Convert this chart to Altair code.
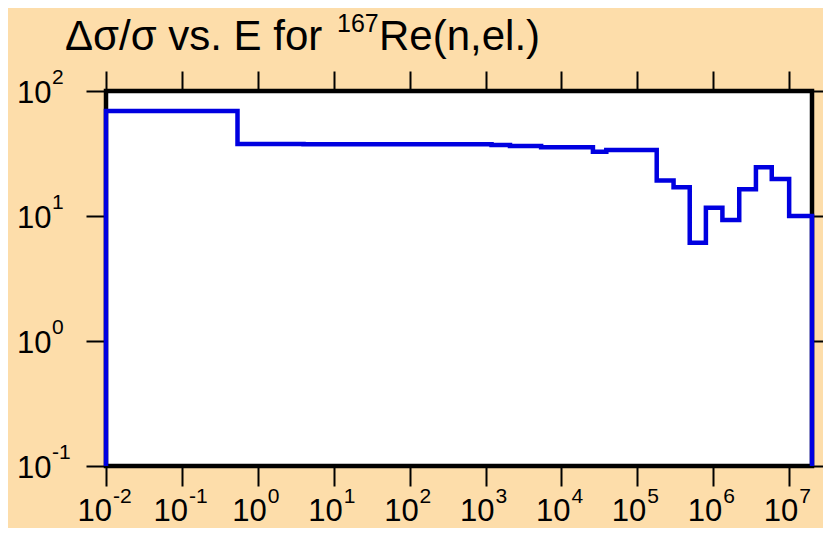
import altair as alt
import pandas as pd

# ---- data ----
# bin edges (eV) of the step curve and the relative uncertainty (%) in each bin
edges = [1e-2, 1e-1, 0.54, 4.0, 1.2e3, 2.1e3, 5.4e3, 2.6e4, 3.9e4, 1.8e5,
         3.0e5, 4.9e5, 8.0e5, 1.32e6, 2.2e6, 3.65e6, 5.9e6, 1.0e7, 2.0e7]
values = [69.2, 69.2, 37.7, 37.5, 37.0, 36.3, 35.5, 32.6, 33.7, 19.2,
          17.0, 6.1, 11.65, 9.3, 16.4, 24.5, 19.8, 10.0]

x_exponents = [-2, -1, 0, 1, 2, 3, 4, 5, 6, 7]
y_exponents = [-1, 0, 1, 2]
x_domain = [1e-2, 2e7]
y_domain = [0.1, 100]

title_main = "Δσ/σ vs. E for"
title_sup = "167"
title_rest = "Re(n,el.)"

# ---- tables ----
xs = [edges[0]] + edges[:-1] + [edges[-1], edges[-1]]
ys = [y_domain[0]] + values + [values[-1], y_domain[0]]
step_df = pd.DataFrame({"E": xs, "U": ys, "i": list(range(len(xs)))})

xlab = pd.DataFrame({"e": x_exponents,
                     "v": [10.0 ** e for e in x_exponents],
                     "base": ["10"] * len(x_exponents),
                     "exp": [str(e) for e in x_exponents]})
ylab = pd.DataFrame({"e": y_exponents,
                     "v": [10.0 ** e for e in y_exponents],
                     "base": ["10"] * len(y_exponents),
                     "exp": [str(e) for e in y_exponents]})
xticks = list(xlab["v"])
yticks = list(ylab["v"])

FONT = "Liberation Sans"
BASE = 31
SUP = 21

xscale = alt.Scale(type="log", domain=x_domain, nice=False)
yscale = alt.Scale(type="log", domain=y_domain, nice=False)


def tick_axis(orient, vals):
    return alt.Axis(orient=orient, values=vals, labels=False, domain=False,
                    grid=False, ticks=True, tickSize=20, tickWidth=2,
                    tickColor="black", title="")


line = alt.Chart(step_df).mark_line(
    color="#0000E0", strokeWidth=4.5, interpolate="step-after",
    strokeJoin="miter"
).encode(
    x=alt.X("E:Q", scale=xscale, axis=tick_axis("bottom", xticks)),
    y=alt.Y("U:Q", scale=yscale, axis=tick_axis("left", yticks)),
    order=alt.Order("i:Q"),
)

# x labels (10 + superscript exponent), below the plot
xl_neg = alt.Chart(xlab).transform_filter("datum.e < 0")
xl_pos = alt.Chart(xlab).transform_filter("datum.e >= 0")

xbase_neg = xl_neg.mark_text(align="right", baseline="alphabetic", font=FONT,
                             fontSize=BASE, dx=6, color="black").encode(
    x=alt.X("v:Q", scale=xscale, axis=tick_axis("top", xticks)),
    y=alt.value(430), text="base:N")
xexp_neg = xl_neg.mark_text(align="left", baseline="alphabetic", font=FONT,
                            fontSize=SUP, dx=7, color="black").encode(
    x=alt.X("v:Q", scale=xscale, axis=None),
    y=alt.value(412), text="exp:N")
xbase_pos = xl_pos.mark_text(align="right", baseline="alphabetic", font=FONT,
                             fontSize=BASE, dx=9, color="black").encode(
    x=alt.X("v:Q", scale=xscale, axis=None),
    y=alt.value(430), text="base:N")
xexp_pos = xl_pos.mark_text(align="left", baseline="alphabetic", font=FONT,
                            fontSize=SUP, dx=10, color="black").encode(
    x=alt.X("v:Q", scale=xscale, axis=None),
    y=alt.value(412), text="exp:N")

# y labels, left of the plot
ybase = alt.Chart(ylab).mark_text(align="left", baseline="alphabetic", font=FONT,
                                  fontSize=BASE, dy=12, color="black").encode(
    y=alt.Y("v:Q", scale=yscale, axis=tick_axis("right", yticks)),
    x=alt.value(-89), text="base:N")
yexp = alt.Chart(ylab).mark_text(align="left", baseline="alphabetic", font=FONT,
                                 fontSize=SUP, dy=-7, color="black").encode(
    y=alt.Y("v:Q", scale=yscale, axis=None),
    x=alt.value(-54), text="exp:N")

# title pieces
t1 = alt.Chart(pd.DataFrame({"t": [title_main]})).mark_text(
    align="left", baseline="alphabetic", font=FONT, fontSize=42, color="black"
).encode(x=alt.value(-41), y=alt.value(-41), text="t:N")
t2 = alt.Chart(pd.DataFrame({"t": [title_sup]})).mark_text(
    align="left", baseline="alphabetic", font=FONT, fontSize=25, color="black"
).encode(x=alt.value(231), y=alt.value(-59), text="t:N")
t3 = alt.Chart(pd.DataFrame({"t": [title_rest]})).mark_text(
    align="left", baseline="alphabetic", font=FONT, fontSize=42, color="black"
).encode(x=alt.value(273), y=alt.value(-41), text="t:N")

chart = alt.layer(
    line, xbase_neg, xexp_neg, xbase_pos, xexp_pos, ybase, yexp, t1, t2, t3
).resolve_axis(
    x="independent", y="independent"
).properties(
    width=706, height=375,
    padding={"left": 98, "top": 83, "right": 11, "bottom": 62},
    autosize=alt.AutoSizeParams(type="none"),
    background="#FDDDAA",
).configure_view(
    fill="white", stroke="black", strokeWidth=4.5
)

chart.save("out.html", embed_options={"renderer": "svg", "actions": False})
